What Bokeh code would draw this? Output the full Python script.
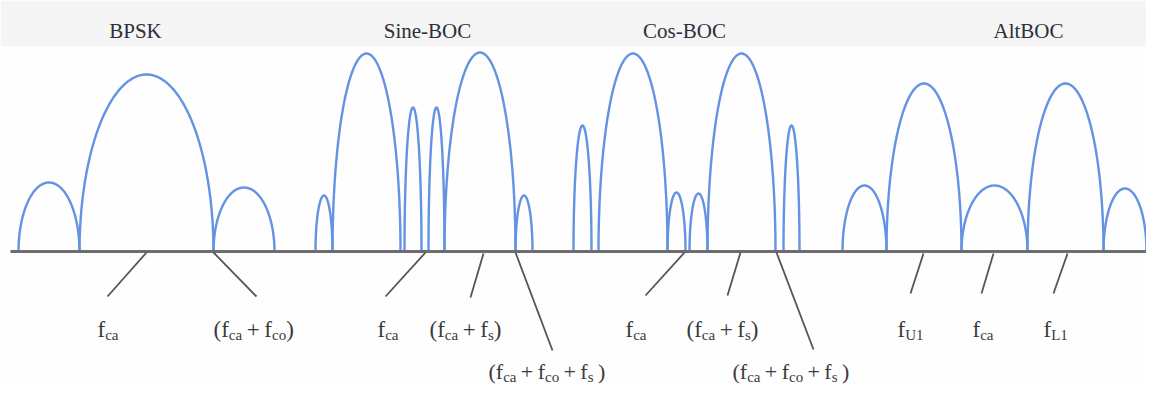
import numpy as np
from bokeh.plotting import figure
from bokeh.models import Range1d, ColumnDataSource
from bokeh.core.properties import value
from bokeh.embed import file_html
from bokeh.resources import INLINE

# ---- data (diagram units = reference pixels) ----
baseline_y = 251
axis_x = [10, 1162]

# lobes: start, end, top (y of peak; smaller = taller)
lobe_start = [18, 79, 213,
              315, 332, 404, 428, 444, 515,
              573, 598, 667, 689, 707, 783,
              842, 886, 961, 1027, 1103]
lobe_end = [79, 213, 274,
            332, 400, 421, 444, 515, 532,
            591, 667, 685, 707, 775, 799,
            886, 961, 1027, 1103, 1146]
lobe_top = [182, 74, 187,
            195, 53, 107, 107, 52, 195,
            125, 53, 192, 193, 53, 125,
            185, 83, 185, 83, 188]

titles = ["BPSK", "Sine-BOC", "Cos-BOC", "AltBOC"]
title_x = [135, 427, 684, 1028]
title_y = 30

# leader lines: from axis point to label
lead_x0 = [146, 213, 425, 483, 515, 684, 740, 776, 923, 993, 1067]
lead_y0 = [252, 252, 252, 253, 252, 252, 252, 252, 253, 253, 253]
lead_x1 = [107, 256, 385, 470, 552, 645, 727, 813, 910, 981, 1053]
lead_y1 = [296, 296, 296, 297, 350, 295, 295, 349, 293, 293, 293]

# labels: list of segments (text, is_subscript); " " = blank advance
labels = [
    ([("f", 0), ("ca", 1)], 97, 329),
    ([("(f", 0), ("ca", 1), (" ", 0), ("+", 0), (" ", 0), ("f", 0), ("co", 1), (")", 0)], 213, 329),
    ([("f", 0), ("ca", 1)], 377, 329),
    ([("(f", 0), ("ca", 1), (" ", 0), ("+", 0), (" ", 0), ("f", 0), ("s", 1), (")", 0)], 429, 329),
    ([("(f", 0), ("ca", 1), (" ", 0), ("+", 0), (" ", 0), ("f", 0), ("co", 1), (" ", 0), ("+", 0),
      (" ", 0), ("f", 0), ("s", 1), (" ", 0), (")", 0)], 488, 371),
    ([("f", 0), ("ca", 1)], 625, 329),
    ([("(f", 0), ("ca", 1), (" ", 0), ("+", 0), (" ", 0), ("f", 0), ("s", 1), (")", 0)], 686, 329),
    ([("(f", 0), ("ca", 1), (" ", 0), ("+", 0), (" ", 0), ("f", 0), ("co", 1), (" ", 0), ("+", 0),
      (" ", 0), ("f", 0), ("s", 1), (" ", 0), (")", 0)], 732, 371),
    ([("f", 0), ("U1", 1)], 897, 329),
    ([("f", 0), ("ca", 1)], 972, 329),
    ([("f", 0), ("L1", 1)], 1043, 329),
]

# ---- figure ----
W, H = 1146, 386
p = figure(width=W, height=H, output_backend="svg", toolbar_location=None,
           x_range=Range1d(0, W), y_range=Range1d(H, 0),
           min_border=0)
p.axis.visible = False
p.grid.visible = False
p.outline_line_color = None
p.background_fill_color = "#fefefe"
p.border_fill_color = "#fefefe"

# header band
p.quad(left=[0], right=[W], top=[0], bottom=[46], fill_color="#f5f5f5", line_color=None)

# lobes
xs, ys = [], []
t = np.linspace(0, np.pi, 90)
for a, b, top in zip(lobe_start, lobe_end, lobe_top):
    c = (a + b) / 2
    r = (b - a) / 2
    h = baseline_y - top
    xs.append(list(c - r * np.cos(t)))
    ys.append(list(baseline_y - h * np.sin(t)))
p.multi_line(xs, ys, line_color="#6393e2", line_width=2.4)

# axis baseline
p.line(axis_x, [baseline_y, baseline_y], line_color="#6d6d6d", line_width=3)

# leader lines
p.segment(lead_x0, lead_y0, lead_x1, lead_y1, line_color="#555555", line_width=1.8)

# titles
p.text(x=title_x, y=[title_y] * 4, text=titles, text_align="center",
       text_baseline="alphabetic", text_font_size="21px",
       text_font=value("Liberation Serif"), text_color="#2e2e3c")

# labels composed of segments
widths = {"(": 0.333, ")": 0.333, "f": 0.333, "c": 0.444, "a": 0.444, "o": 0.5,
          "s": 0.389, "+": 0.564, " ": 0.2, "U": 0.722, "L": 0.611, "1": 0.5}
lx, ly, lt, lsz = [], [], [], []
for segs, x0, y0 in labels:
    low = y0 > 350
    main_fs = 22 if low else 23
    sub_fs = 15
    x = x0
    for txt, sub in segs:
        fs = sub_fs if sub else main_fs
        if txt.strip():
            lx.append(x)
            ly.append(y0 + (5 if sub else 0))
            lt.append(txt)
            lsz.append(f"{fs}px")
        x += sum(widths.get(ch, 0.5) for ch in txt) * fs
src = ColumnDataSource(dict(x=lx, y=ly, text=lt, size=lsz))
p.text(x="x", y="y", text="text", source=src, text_align="left",
       text_baseline="alphabetic", text_font_size="size",
       text_font=value("Liberation Serif"), text_color="#3a3a3a")

open("out.html", "w").write(file_html(p, INLINE))
